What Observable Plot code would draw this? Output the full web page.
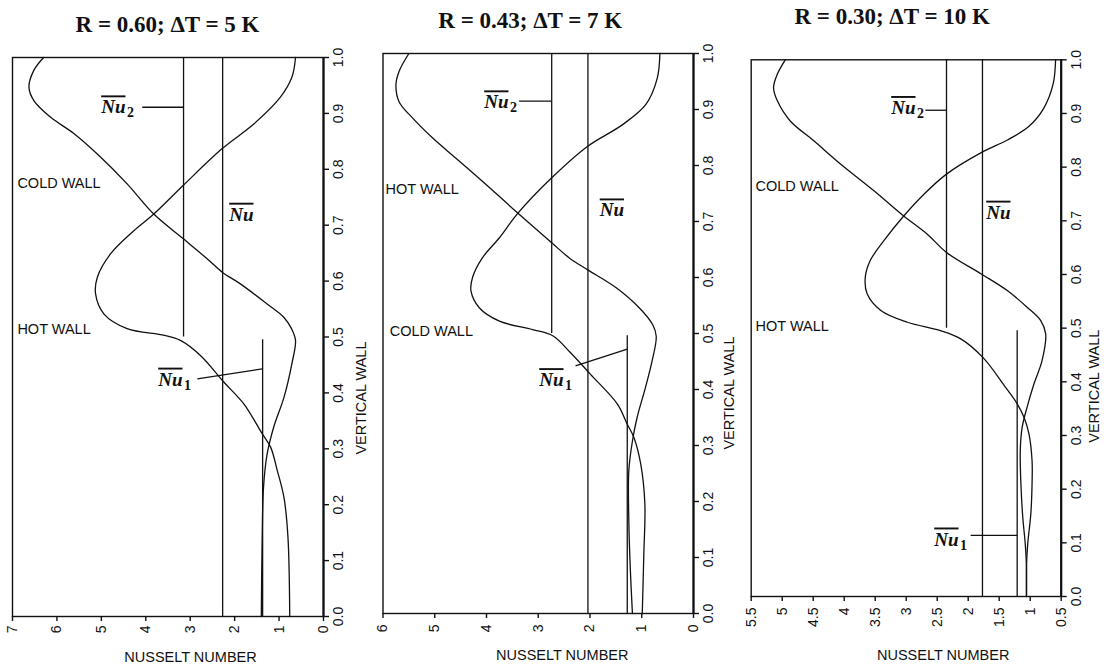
<!DOCTYPE html>
<html><head><meta charset="utf-8">
<script src="https://cdn.jsdelivr.net/npm/d3@7"></script>
<script src="https://cdn.jsdelivr.net/npm/@observablehq/plot@0.6"></script>
<style>
html,body{margin:0;padding:0;background:#fff;}
#chart{position:relative;width:1104px;height:670px;overflow:hidden;background:#fff;}
#chart svg{position:absolute;top:0;}
</style></head><body><div id="chart"></div>
<script>
// ---------- data ----------
const titles = ["R = 0.60; \u0394T = 5 K", "R = 0.43; \u0394T = 7 K", "R = 0.30; \u0394T = 10 K"];
const xLabel = "NUSSELT NUMBER";
const yLabel = "VERTICAL WALL";
const yTicks = [0, 0.1, 0.2, 0.3, 0.4, 0.5, 0.6, 0.7, 0.8, 0.9, 1.0];
const p1XTicks = [0, 1, 2, 3, 4, 5, 6, 7];
const p2XTicks = [0, 1, 2, 3, 4, 5, 6];
const p3XTicks = [0.5, 1, 1.5, 2, 2.5, 3, 3.5, 4, 4.5, 5, 5.5];

// panel 1 curves (vertical position, Nusselt number)
const p1AY  = [1.0, 0.977, 0.947, 0.923, 0.893, 0.864, 0.822, 0.774, 0.72, 0.676, 0.64, 0.616, 0.595, 0.559, 0.535, 0.515, 0.494, 0.453, 0.392, 0.339, 0.29, 0.231, 0.142, 0.0];
const p1ANu = [6.30, 6.52, 6.63, 6.52, 6.14, 5.62, 5.02, 4.42, 3.82, 3.16, 2.62, 2.28, 1.87, 1.27, 0.89, 0.72, 0.63, 0.71, 0.89, 1.12, 1.27, 1.35, 1.38, 1.40];
const p1BY  = [1.0, 0.965, 0.929, 0.881, 0.837, 0.771, 0.72, 0.69, 0.649, 0.607, 0.577, 0.541, 0.515, 0.503, 0.494, 0.467, 0.419, 0.38, 0.327, 0.303, 0.261, 0.213, 0.142, 0.0];
const p1BNu = [0.63, 0.71, 0.97, 1.57, 2.28, 3.16, 3.82, 4.27, 4.79, 5.09, 5.13, 4.94, 4.42, 3.58, 3.22, 2.77, 2.24, 1.79, 1.38, 1.19, 1.04, 0.89, 0.80, 0.76];
// panel 2 curves
const p2AY  = [1.0, 0.968, 0.944, 0.914, 0.885, 0.849, 0.813, 0.772, 0.718, 0.662, 0.635, 0.614, 0.582, 0.546, 0.516, 0.495, 0.451, 0.403, 0.35, 0.308, 0.255, 0.166, 0.077, 0.0];
const p2ANu = [5.50, 5.69, 5.75, 5.69, 5.43, 5.04, 4.59, 4.08, 3.43, 2.74, 2.40, 2.05, 1.50, 1.05, 0.79, 0.72, 0.80, 0.93, 1.09, 1.18, 1.25, 1.25, 1.22, 1.18];
const p2BY  = [1.0, 0.956, 0.909, 0.873, 0.834, 0.778, 0.714, 0.671, 0.635, 0.60, 0.576, 0.546, 0.522, 0.507, 0.496, 0.466, 0.427, 0.374, 0.338, 0.314, 0.267, 0.196, 0.106, 0.0];
const p2BNu = [0.65, 0.70, 0.92, 1.37, 2.05, 2.74, 3.40, 3.75, 4.08, 4.27, 4.30, 4.14, 3.75, 3.11, 2.72, 2.38, 1.99, 1.47, 1.28, 1.15, 1.02, 0.94, 0.96, 0.99];
// panel 3 curves
const p3AY  = [1.0, 0.973, 0.948, 0.924, 0.886, 0.849, 0.806, 0.756, 0.709, 0.675, 0.641, 0.601, 0.57, 0.539, 0.514, 0.489, 0.439, 0.396, 0.353, 0.315, 0.272, 0.21, 0.148, 0.098, 0.055, 0.0];
const p3ANu = [4.95, 5.08, 5.14, 5.08, 4.87, 4.49, 4.06, 3.52, 3.04, 2.66, 2.35, 1.79, 1.37, 1.05, 0.83, 0.75, 0.81, 0.94, 1.05, 1.13, 1.16, 1.15, 1.12, 1.08, 1.06, 1.06];
const p3BY  = [1.0, 0.955, 0.91, 0.876, 0.851, 0.827, 0.787, 0.75, 0.709, 0.663, 0.626, 0.595, 0.564, 0.533, 0.511, 0.495, 0.48, 0.445, 0.39, 0.359, 0.334, 0.303, 0.253, 0.21, 0.154, 0.098, 0.055, 0.0];
const p3BNu = [0.59, 0.63, 0.78, 1.02, 1.36, 1.79, 2.35, 2.71, 3.04, 3.36, 3.58, 3.66, 3.63, 3.41, 2.98, 2.44, 2.12, 1.76, 1.40, 1.21, 1.10, 1.02, 0.97, 0.97, 0.99, 1.04, 1.06, 1.06];

// average Nusselt lines: [Nu, Nu2, Nu1]
const p1LineNu = [2.27, 3.15, 1.37], p1LineLo = [0, 0.5, 0], p1LineHi = [1, 1, 0.495];
const p2LineNu = [2.04, 2.74, 1.28], p2LineLo = [0, 0.5, 0], p2LineHi = [1, 1, 0.496];
const p3LineNu = [1.77, 2.35, 1.21], p3LineLo = [0, 0.5, 0], p3LineHi = [1, 1, 0.495];

// "Nu" labels: subscript, position (end of "Nu", baseline)
const nuSubs = ["2", "", "1"];
const p1LabNu = [4.457, 1.576, 3.174], p1LabY = [0.90, 0.708, 0.413];
const p2LabNu = [3.575, 1.343, 2.512], p2LabY = [0.902, 0.709, 0.406];
const p3LabNu = [2.85, 1.318, 2.156], p3LabY = [0.899, 0.704, 0.095];

// leader lines [Nu2 leader, Nu1 leader]
const p1LeadX1 = [4.08, 2.84], p1LeadY1 = [0.911, 0.425], p1LeadX2 = [3.15, 1.38], p1LeadY2 = [0.911, 0.443];
const p2LeadX1 = [3.37, 2.28], p2LeadY1 = [0.915, 0.442], p2LeadX2 = [2.74, 1.28], p2LeadY2 = [0.915, 0.472];
const p3LeadX1 = [2.69, 1.96], p3LeadY1 = [0.906, 0.114], p3LeadX2 = [2.35, 1.21], p3LeadY2 = [0.906, 0.114];

// wall labels
const p1Walls = ["COLD WALL", "HOT WALL"], p1WallNu = [6.89, 6.89], p1WallY = [0.766, 0.506];
const p2Walls = ["HOT WALL", "COLD WALL"], p2WallNu = [5.95, 5.87], p2WallY = [0.75, 0.496];
const p3Walls = ["COLD WALL", "HOT WALL"], p3WallNu = [5.43, 5.43], p3WallY = [0.756, 0.495];

// ---------- fonts ----------
function hasFont(name) {
  const c = document.createElement("canvas").getContext("2d");
  const t = "NUSSELT NUMBER 0.123456789";
  let diff = false;
  for (const fb of ["monospace", "serif"]) {
    c.font = `20px ${fb}`; const w0 = c.measureText(t).width;
    c.font = `20px "${name}", ${fb}`; const w1 = c.measureText(t).width;
    if (Math.abs(w0 - w1) > 0.01) diff = true;
  }
  return diff;
}
const narrow = hasFont("Liberation Sans Narrow");
const SANS = narrow ? '"Liberation Sans Narrow", "Liberation Sans", Arial, sans-serif' : '"Liberation Sans", Arial, sans-serif';
const TICK_SIZE = narrow ? 16.5 : 14;
const LABEL_SIZE = narrow ? 17 : 14.5;
const SERIF = '"Liberation Serif", "Times New Roman", serif';

// ---------- layout ----------
const panels = [
  {left: 0, width: 370, mL: 12, mR: 47, mT: 57, mB: 54, xDomain: [7, 0], xTicks: p1XTicks, padX: 4,
   aY: p1AY, aNu: p1ANu, bY: p1BY, bNu: p1BNu, lineNu: p1LineNu, lineLo: p1LineLo, lineHi: p1LineHi,
   labNu: p1LabNu, labY: p1LabY, leadX1: p1LeadX1, leadY1: p1LeadY1, leadX2: p1LeadX2, leadY2: p1LeadY2,
   walls: p1Walls, wallNu: p1WallNu, wallY: p1WallY,
   title: titles[0], tdx: -0.5, tdy: -26, xldx: 22.5, xldy: 41, yldx: 38, yldy: 4.5},
  {left: 370, width: 370, mL: 12.5, mR: 47, mT: 53, mB: 57, xDomain: [6, 0], xTicks: p2XTicks, padX: 6,
   aY: p2AY, aNu: p2ANu, bY: p2BY, bNu: p2BNu, lineNu: p2LineNu, lineLo: p2LineLo, lineHi: p2LineHi,
   labNu: p2LabNu, labY: p2LabY, leadX1: p2LeadX1, leadY1: p2LeadY1, leadX2: p2LeadX2, leadY2: p2LeadY2,
   walls: p2Walls, wallNu: p2WallNu, wallY: p2WallY,
   title: titles[1], tdx: -8, tdy: -26, xldx: 24, xldy: 42, yldx: 36, yldy: 3},
  {left: 740, width: 364, mL: 10.7, mR: 43.3, mT: 59.3, mB: 74, xDomain: [5.5, 0.5], xTicks: p3XTicks, padX: 6,
   aY: p3AY, aNu: p3ANu, bY: p3BY, bNu: p3BNu, lineNu: p3LineNu, lineLo: p3LineLo, lineHi: p3LineHi,
   labNu: p3LabNu, labY: p3LabY, leadX1: p3LeadX1, leadY1: p3LeadY1, leadX2: p3LeadX2, leadY2: p3LeadY2,
   walls: p3Walls, wallNu: p3WallNu, wallY: p3WallY,
   title: titles[2], tdx: -14, tdy: -36.3, xldx: 37, xldy: 59, yldx: 33, yldy: 1.5}
];

const chart = document.getElementById("chart");
const INK = "#111";

for (const p of panels) {
  const A = p.aY.map((y, i) => ({y, nu: p.aNu[i]}));
  const B = p.bY.map((y, i) => ({y, nu: p.bNu[i]}));
  const lines = p.lineNu.map((nu, i) => ({nu, lo: p.lineLo[i], hi: p.lineHi[i]}));
  const labs = p.labNu.map((nu, i) => ({nu, y: p.labY[i], sub: nuSubs[i]}));
  const leads = p.leadX1.map((x1, i) => ({x1, y1: p.leadY1[i], x2: p.leadX2[i], y2: p.leadY2[i]}));
  const walls = p.walls.map((t, i) => ({t, nu: p.wallNu[i], y: p.wallY[i]}));

  const svg = Plot.plot({
    width: p.width, height: 670,
    marginLeft: p.mL, marginRight: p.mR, marginTop: p.mT, marginBottom: p.mB,
    style: {background: "transparent", fontFamily: SANS, fontSize: TICK_SIZE + "px", color: INK, overflow: "visible"},
    x: {domain: p.xDomain},
    y: {domain: [0, 1]},
    marks: [
      Plot.frame({stroke: INK, strokeWidth: 1.4}),
      Plot.ruleX([p.xDomain[1]], {stroke: INK, strokeWidth: 2.2}),
      Plot.axisX(p.xTicks, {anchor: "bottom", tickSize: 5, tickPadding: p.padX, tickRotate: -90,
        textAnchor: "end", lineAnchor: "middle", tickFormat: d => String(d), label: null,
        fontSize: TICK_SIZE, fontFamily: SANS, stroke: INK, strokeWidth: 1.4, fill: INK}),
      Plot.axisY(yTicks, {anchor: "right", tickSize: 5, tickPadding: 5, tickRotate: -90,
        textAnchor: "middle", lineAnchor: "top", tickFormat: d3.format(".1f"), label: null,
        fontSize: TICK_SIZE, fontFamily: SANS, stroke: INK, strokeWidth: 1.4, fill: INK}),
      Plot.ruleX(lines, {x: "nu", y1: "lo", y2: "hi", stroke: INK, strokeWidth: 1.3}),
      Plot.line(A, {x: "nu", y: "y", curve: "catmull-rom", stroke: INK, strokeWidth: 1.3}),
      Plot.line(B, {x: "nu", y: "y", curve: "catmull-rom", stroke: INK, strokeWidth: 1.3}),
      Plot.link(leads, {x1: "x1", y1: "y1", x2: "x2", y2: "y2", stroke: INK, strokeWidth: 1.3}),
      Plot.text(walls, {x: "nu", y: "y", text: "t", textAnchor: "start", lineAnchor: "bottom",
        fontFamily: SANS, fontSize: LABEL_SIZE, fill: INK}),
      Plot.text(labs, {x: "nu", y: "y", text: () => "Nu", textAnchor: "end", lineAnchor: "bottom",
        fontFamily: SERIF, fontStyle: "italic", fontWeight: "bold", fontSize: 19, fill: INK}),
      Plot.text(labs, {x: "nu", y: "y", text: "sub", textAnchor: "start", lineAnchor: "bottom",
        dx: 1.5, dy: 4, fontFamily: SERIF, fontWeight: "bold", fontSize: 14, fill: INK}),
      Plot.text([p.title], {frameAnchor: "top", dx: p.tdx, dy: p.tdy, lineAnchor: "bottom",
        fontFamily: SERIF, fontWeight: "bold", fontSize: 23, fill: INK}),
      Plot.text([xLabel], {frameAnchor: "bottom", dx: p.xldx, dy: p.xldy, lineAnchor: "middle",
        fontFamily: SANS, fontSize: LABEL_SIZE, fill: INK}),
      Plot.text([yLabel], {frameAnchor: "right", dx: p.yldx, dy: p.yldy, rotate: -90, lineAnchor: "middle",
        fontFamily: SANS, fontSize: LABEL_SIZE, fill: INK})
    ]
  });
  svg.style.left = p.left + "px";
  d3.select(svg).selectAll("text").filter(function() { return this.textContent === "Nu"; })
    .style("text-decoration", "overline");
  chart.appendChild(svg);
}
</script></body></html>
